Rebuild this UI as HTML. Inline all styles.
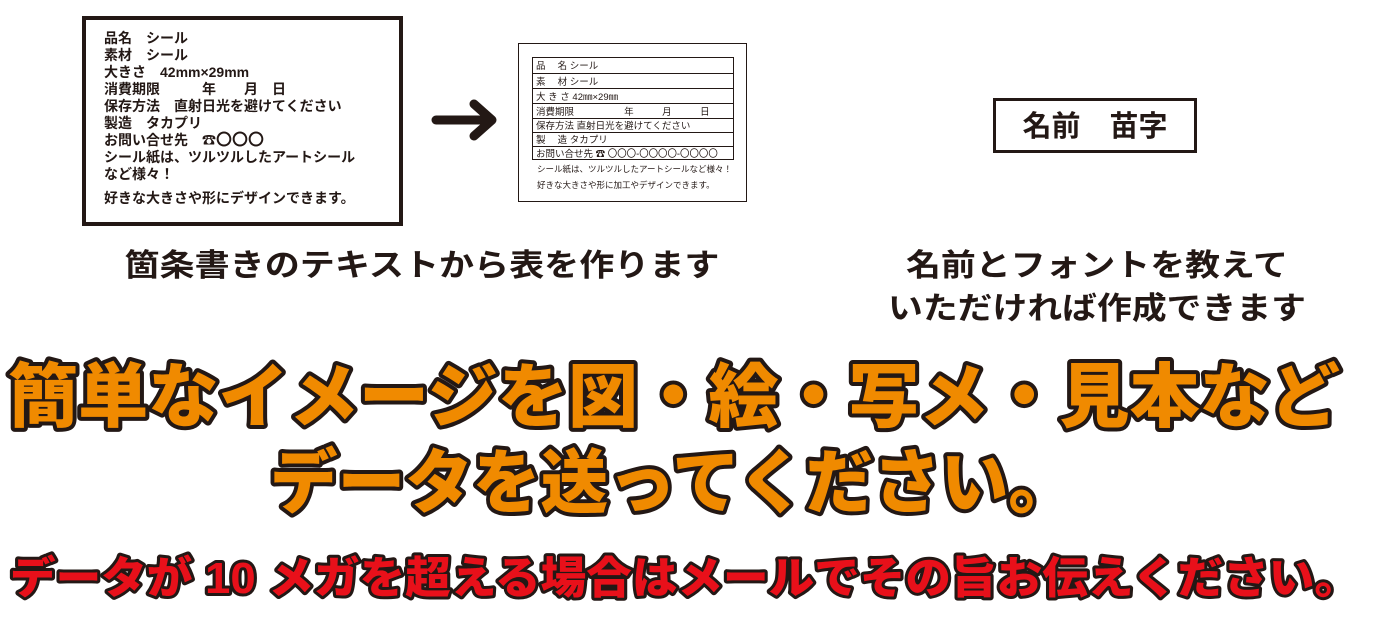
<!DOCTYPE html>
<html><head><meta charset="utf-8"><style>
html,body{margin:0;padding:0;background:#fff;width:1386px;height:632px;overflow:hidden}
svg text{font-family:"Liberation Sans","Noto Sans CJK JP",sans-serif;}
</style></head><body>
<svg width="1386" height="632" viewBox="0 0 1386 632" xmlns="http://www.w3.org/2000/svg">
<rect x="84" y="18" width="317" height="206" fill="#fff" stroke="#231815" stroke-width="4"/>
<g font-size="14" font-weight="bold" fill="#231815">
<text x="104" y="43">品名　シール</text>
<text x="104" y="60">素材　シール</text>
<text x="104" y="77">大きさ　42mm×29mm</text>
<text x="104" y="94">消費期限　　　年　　月　日</text>
<text x="104" y="111">保存方法　直射日光を避けてください</text>
<text x="104" y="128">製造　タカプリ</text>
<text x="104" y="145">お問い合せ先　☎<tspan font-size="16">〇〇〇</tspan></text>
<text x="104" y="162">シール紙は、ツルツルしたアートシール</text>
<text x="104" y="179">など様々！</text>
<text x="104" y="203">好きな大きさや形にデザインできます。</text>
</g>
<line x1="436" y1="120" x2="484" y2="120" stroke="#231815" stroke-width="9" stroke-linecap="round"/>
<polyline points="474,104 492,120 474,136" fill="none" stroke="#231815" stroke-width="9" stroke-linecap="round" stroke-linejoin="round"/>
<rect x="518.5" y="43.5" width="228" height="158" fill="#fff" stroke="#231815" stroke-width="1"/>
<g fill="none" stroke="#231815" stroke-width="1">
<rect x="532.5" y="57.5" width="201" height="102"/>
<line x1="532" y1="73.5" x2="734" y2="73.5"/><line x1="532" y1="88.5" x2="734" y2="88.5"/>
<line x1="532" y1="103.5" x2="734" y2="103.5"/><line x1="532" y1="118.5" x2="734" y2="118.5"/>
<line x1="532" y1="132.5" x2="734" y2="132.5"/><line x1="532" y1="146.5" x2="734" y2="146.5"/>
</g>
<g font-size="9.5" fill="#231815">
<text x="536" y="69">品　 名 シール</text>
<text x="536" y="85">素　 材 シール</text>
<text x="536" y="100">大 き さ  42㎜×29㎜</text>
<text x="536" y="115">消費期限　　　　　 年　　　月　　　日</text>
<text x="536" y="129">保存方法  直射日光を避けてください</text>
<text x="536" y="143">製　 造  タカプリ</text>
<text x="536" y="157">お問い合せ先  ☎ <tspan font-size="10" textLength="110" lengthAdjust="spacingAndGlyphs">〇〇〇-〇〇〇〇-〇〇〇〇</tspan></text>
<text x="537" y="172" font-size="8.5">シール紙は、ツルツルしたアートシールなど様々！</text>
<text x="537" y="188" font-size="8.5">好きな大きさや形に加工やデザインできます。</text>
</g>
<rect x="994.5" y="99.5" width="201" height="52" fill="#fff" stroke="#231815" stroke-width="3"/>
<text x="1095" y="136" font-size="29" font-weight="bold" text-anchor="middle" fill="#231815">名前　苗字</text>
<g font-size="31" font-weight="bold" fill="#231815" text-anchor="middle">
<text x="422" y="276" textLength="595" lengthAdjust="spacingAndGlyphs">箇条書きのテキストから表を作ります</text>
<text x="1097" y="276" textLength="382" lengthAdjust="spacingAndGlyphs">名前とフォントを教えて</text>
<text x="1097" y="319" textLength="418" lengthAdjust="spacingAndGlyphs">いただければ作成できます</text>
</g>
<g font-weight="900" stroke="#231815" stroke-linejoin="round" paint-order="stroke">
<text x="8" y="421" font-size="70" fill="#f08a00" stroke-width="8" textLength="1332" lengthAdjust="spacingAndGlyphs">簡単なイメージを図・絵・写メ・見本など</text>
<text x="270" y="507" font-size="70" fill="#f08a00" stroke-width="8" textLength="806" lengthAdjust="spacingAndGlyphs">データを送ってください。</text>
<text x="10" y="593" font-size="44" fill="#e8101a" stroke-width="6" textLength="1350" lengthAdjust="spacingAndGlyphs">データが 10 メガを超える場合はメールでその旨お伝えください。</text>
</g>
</svg>
</body></html>
